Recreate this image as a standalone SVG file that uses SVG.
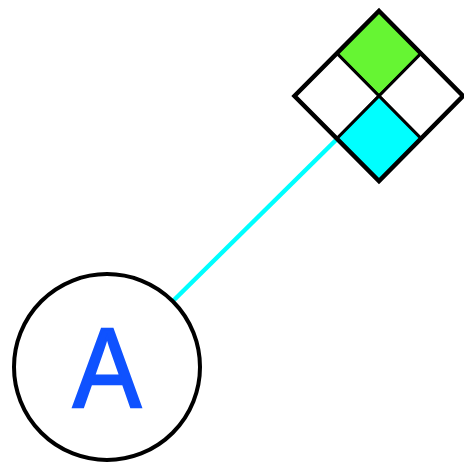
<svg xmlns="http://www.w3.org/2000/svg" width="464" height="464" viewBox="0 0 464 464">
<style>
.outline{fill:none;stroke:#000;stroke-width:4.5;stroke-linejoin:miter}
.cell{stroke:#000;stroke-width:3}
.lbl{font-family:"Liberation Sans",Arial,sans-serif;font-size:114px;fill:#0f52ff;stroke:#0f52ff;stroke-width:2.5;text-anchor:middle}
</style>
<rect width="464" height="464" fill="#fff"/>
<g id="connectors">
<line x1="174" y1="300" x2="337" y2="139" stroke="#00ffff" stroke-width="4.5"/>
</g>
<g id="nodeA">
<circle cx="107" cy="367" r="93" fill="#fff" stroke="#000" stroke-width="4"/>
<text class="lbl" x="107" y="407" textLength="68" lengthAdjust="spacingAndGlyphs">A</text>
</g>
<g id="nodeB">
<polygon class="cell" points="379,11 421,53.5 379,96 337,53.5" fill="#66f533"/>
<polygon class="cell" points="337,53.5 379,96 337,138.5 294.5,96" fill="#fff"/>
<polygon class="cell" points="421,53.5 463,96 421,138.5 379,96" fill="#fff"/>
<polygon class="cell" points="379,96 421,138.5 379,181 337,138.5" fill="#00ffff"/>
<polygon class="outline" points="379,11 463,96 379,181 294.5,96"/>
</g>
</svg>
